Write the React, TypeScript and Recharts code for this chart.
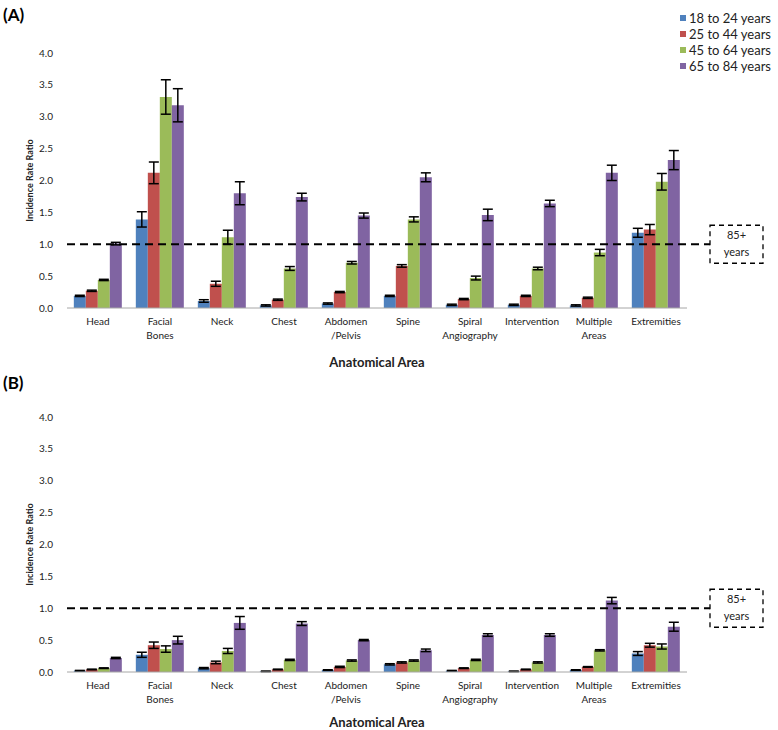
import React from "react";
import { BarChart, Bar, XAxis, YAxis, ErrorBar, ReferenceLine } from "recharts";

const categories = [
  "Head",
  "Facial\nBones",
  "Neck",
  "Chest",
  "Abdomen\n/Pelvis",
  "Spine",
  "Spiral\nAngiography",
  "Intervention",
  "Multiple\nAreas",
  "Extremities",
];

const ageGroups = ["18 to 24 years", "25 to 44 years", "45 to 64 years", "65 to 84 years"];
const colors = ["#4f81bd", "#c0504d", "#9bbb59", "#8064a2"];
const yTicks = [0, 0.5, 1, 1.5, 2, 2.5, 3, 3.5, 4];

// panel A (vs 85+ reference)
const a18 = [0.19, 1.39, 0.11, 0.04, 0.07, 0.19, 0.05, 0.05, 0.04, 1.18];
const a18Err = [0.01, 0.12, 0.02, 0.01, 0.01, 0.01, 0.01, 0.01, 0.01, 0.07];
const a25 = [0.27, 2.12, 0.38, 0.13, 0.25, 0.66, 0.14, 0.19, 0.16, 1.23];
const a25Err = [0.01, 0.17, 0.04, 0.01, 0.01, 0.02, 0.01, 0.01, 0.01, 0.08];
const a45 = [0.44, 3.31, 1.11, 0.62, 0.71, 1.39, 0.47, 0.62, 0.87, 1.98];
const a45Err = [0.01, 0.27, 0.11, 0.03, 0.02, 0.04, 0.03, 0.02, 0.05, 0.13];
const a65 = [1.01, 3.18, 1.8, 1.74, 1.45, 2.05, 1.46, 1.64, 2.12, 2.32];
const a65Err = [0.02, 0.26, 0.18, 0.06, 0.04, 0.07, 0.09, 0.05, 0.12, 0.15];

// panel B
const b18 = [0.02, 0.27, 0.06, 0.01, 0.03, 0.12, 0.02, 0.01, 0.03, 0.29];
const b18Err = [0.005, 0.04, 0.01, 0.005, 0.005, 0.01, 0.005, 0.005, 0.005, 0.03];
const b25 = [0.04, 0.42, 0.15, 0.04, 0.08, 0.15, 0.06, 0.04, 0.08, 0.42];
const b25Err = [0.005, 0.05, 0.02, 0.005, 0.01, 0.01, 0.005, 0.005, 0.005, 0.03];
const b45 = [0.06, 0.36, 0.33, 0.19, 0.18, 0.18, 0.19, 0.15, 0.34, 0.4];
const b45Err = [0.005, 0.05, 0.04, 0.01, 0.01, 0.01, 0.01, 0.01, 0.01, 0.04];
const b65 = [0.22, 0.5, 0.77, 0.76, 0.5, 0.34, 0.58, 0.58, 1.12, 0.71];
const b65Err = [0.01, 0.06, 0.1, 0.03, 0.01, 0.02, 0.02, 0.02, 0.05, 0.07];

const FONT = "Lato, 'Open Sans', sans-serif";

function buildRows(vals: number[][], errs: number[][]) {
  return categories.map((name, i) => {
    const row: any = { name };
    vals.forEach((v, s) => {
      row["s" + s] = v[i];
      row["e" + s] = errs[s][i];
    });
    return row;
  });
}

const dataA = buildRows([a18, a25, a45, a65], [a18Err, a25Err, a45Err, a65Err]);
const dataB = buildRows([b18, b25, b45, b65], [b18Err, b25Err, b45Err, b65Err]);

const CategoryTick = (props: any) => {
  const { x, y, payload } = props;
  const lines = String(payload.value).split("\n");
  return (
    <text x={x} y={y} textAnchor="middle" fontSize={10} fill="#222" fontFamily={FONT}>
      {lines.map((l, i) => (
        <tspan key={i} x={x} dy={i === 0 ? 15 : 14}>
          {l}
        </tspan>
      ))}
    </text>
  );
};

// dashed 85+ line, carried past the plot into the boxed label
const RefShape = (props: any) => {
  const { x1, y1, x2 } = props;
  const bx = x2 + 23;
  return (
    <g>
      <line x1={x1} y1={y1} x2={bx} y2={y1} stroke="#000" strokeWidth={2} strokeDasharray="8 5" />
      <rect x={bx} y={y1 - 19} width={53} height={38} fill="#fff" stroke="#000" strokeWidth={1.3} strokeDasharray="5 4" />
      <text x={bx + 26.5} y={y1 - 5} textAnchor="middle" fontSize={11} fill="#222" fontFamily={FONT}>85+</text>
      <text x={bx + 26.5} y={y1 + 12} textAnchor="middle" fontSize={11} fill="#222" fontFamily={FONT}>years</text>
    </g>
  );
};

const LegendBox = () => (
  <div
    style={{
      position: "absolute",
      left: 680,
      top: 10,
      fontFamily: FONT,
      fontSize: 13,
      color: "#222",
      lineHeight: "16px",
    }}
  >
    {ageGroups.map((g, i) => (
      <div key={g} style={{ display: "flex", alignItems: "center" }}>
        <span style={{ width: 6, height: 6, background: colors[i], marginRight: 3, display: "inline-block" }} />
        {g}
      </div>
    ))}
  </div>
);

function Panel({ data, top, height, plotTop }: any) {
  return (
    <div style={{ position: "absolute", left: 0, top }}>
      <BarChart
        width={778}
        height={height}
        data={data}
        margin={{ top: plotTop, right: 91, bottom: 0, left: 0 }}
        barCategoryGap="11%"
        barGap={0}
      >
        <XAxis
          dataKey="name"
          interval={0}
          tick={<CategoryTick />}
          tickLine={false}
          tickSize={0}
          axisLine={{ stroke: "#a6a6a6" }}
          height={height - plotTop - 255}
          label={{
            value: "Anatomical Area",
            position: "insideBottom",
            offset: 3,
            fontSize: 13,
            fontWeight: 700,
            fill: "#222",
            fontFamily: FONT,
          }}
        />
        <YAxis
          domain={[0, 4]}
          ticks={yTicks}
          tickFormatter={(v: number) => v.toFixed(1)}
          axisLine={false}
          tickLine={false}
          tickMargin={8}
          width={67}
          tick={{ fontSize: 10, fill: "#222", fontFamily: FONT }}
          label={{
            value: "Incidence Rate Ratio",
            angle: -90,
            position: "center",
            dx: -4,
            fontSize: 9,
            fontWeight: 700,
            fill: "#222",
            fontFamily: FONT,
          }}
        />
        {ageGroups.map((g, i) => (
          <Bar key={g} dataKey={"s" + i} name={g} fill={colors[i]} isAnimationActive={false}>
            <ErrorBar dataKey={"e" + i} width={5} stroke="#000" strokeWidth={1.5} />
          </Bar>
        ))}
        <ReferenceLine y={1} shape={<RefShape />} />
      </BarChart>
    </div>
  );
}

export default function App() {
  return (
    <div style={{ position: "absolute", left: 0, top: 0, width: 778, height: 730, background: "#fff" }}>
      <div style={{ position: "absolute", left: 3, top: 4, fontFamily: FONT, fontWeight: 700, fontSize: 17 }}>(A)</div>
      <div style={{ position: "absolute", left: 3, top: 372, fontFamily: FONT, fontWeight: 700, fontSize: 17 }}>(B)</div>
      <Panel data={dataA} top={0} height={370} plotTop={53} />
      <Panel data={dataB} top={370} height={360} plotTop={47} />
      <LegendBox />
    </div>
  );
}
